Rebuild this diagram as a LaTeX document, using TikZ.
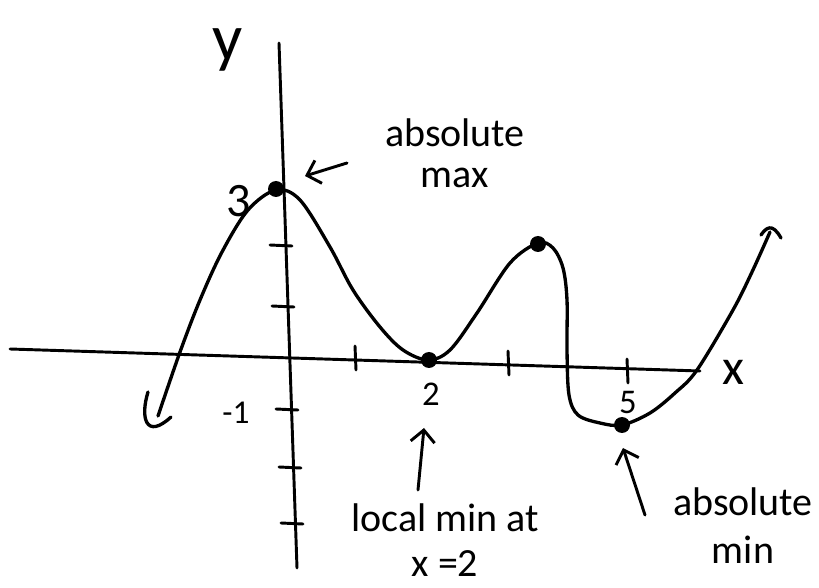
\documentclass[tikz,border=0pt]{standalone}
\usepackage{fontspec}
\setmainfont{Carlito}
\usetikzlibrary{arrows.meta}
\begin{document}
\begin{tikzpicture}[x=0.75pt,y=-0.75pt,
  axis/.style={line width=2.2pt, line cap=round},
  pen/.style={line width=2.5pt, line cap=round, line join=round},
  tick/.style={line width=2.2pt, line cap=round},
  dot/.style={circle, fill=black, inner sep=0pt, minimum size=12pt},
  lbl/.style={align=center, inner sep=0pt, font=\fontsize{30}{31}\selectfont},
  hand/.style={inner sep=0pt},
  ptr/.style={line width=2.2pt, line cap=round, -{Straight Barb[length=9pt,width=18pt,line width=2.2pt]}}]
\useasboundingbox (0,0) rectangle (819,588);
\fill[white] (0,0) rectangle (819,588);

% axes
\coordinate (xl) at (10,349);
\coordinate (xr) at (700,371);
\coordinate (yt) at (279,43);
\coordinate (yb) at (297,568);
\draw[axis] (xl) -- (xr);
\draw[axis] (yt) -- (yb);

% y ticks
\foreach \yy/\xx in {245/281, 306/283, 409/287, 467/290, 523/292}
  \draw[tick] (\xx-11,\yy) -- (\xx+11,\yy+1);
% x ticks
\foreach \xx/\yy in {355/358, 508/363, 627/371}
  \draw[tick] (\xx,\yy-12) -- (\xx+1,\yy+12);

% handwritten labels
\node[hand, font=\fontsize{50}{50}\selectfont] (ylab) at (228,50) {y};
\node[hand, font=\fontsize{36}{36}\selectfont] (three) at (239,201) {3};
\node[hand, font=\fontsize{25}{25}\selectfont] (mone) at (236,413) {-1};
\node[hand, font=\fontsize{26}{26}\selectfont] (two) at (431,394) {2};
\node[hand, font=\fontsize{26}{26}\selectfont] (five) at (628,402) {5};
\node[hand, font=\fontsize{38}{38}\selectfont] (xlab) at (733,372) {x};

% curve
\draw[pen] plot[smooth, tension=0.55] coordinates {
  (158,416) (180,352) (200,300) (222,252) (248,210) (276,190)
  (300,200) (330,247) (353,290) (380,327) (403,350) (428,360)
  (450,350) (477,313) (510,263) (538,243)
  (553,248) (563,268) (567,300) (567,350) (569,395) (578,415) (600,423) (622,425)
  (650,413) (675,393) (697,370) (733,310) (752,272) (770,232)};
% hand-drawn arrow ends
\draw[pen] (148,392) .. controls (140,418) and (146,440) .. (171,417);
\draw[pen] (761,235) .. controls (766,228) and (772,222) .. (781,238);

% points
\node[dot] (pmax) at (276,189) {};
\node[dot] (pmin2) at (429,360) {};
\node[dot] (ploc) at (538,244) {};
\node[dot] (pmin5) at (622,425) {};

% text labels
\node[lbl, font=\fontsize{30}{30.75}\selectfont] (amax) at (455,153) {absolute\\max};
\node[lbl, font=\fontsize{30}{33.5}\selectfont] (lmin) at (445,540) {local min at\\x =2};
\node[lbl, font=\fontsize{30}{36}\selectfont] (amin) at (743,526) {absolute\\min};

% pointer arrows
\coordinate (a1s) at (347,163);
\coordinate (a1e) at (305,176);
\draw[ptr] (a1s) -- (a1e);
\coordinate (a2s) at (418,490);
\coordinate (a2e) at (424,428);
\draw[ptr] (a2s) -- (a2e);
\coordinate (a3s) at (645,515);
\coordinate (a3e) at (623,448);
\draw[ptr] (a3s) -- (a3e);
\end{tikzpicture}
\end{document}
